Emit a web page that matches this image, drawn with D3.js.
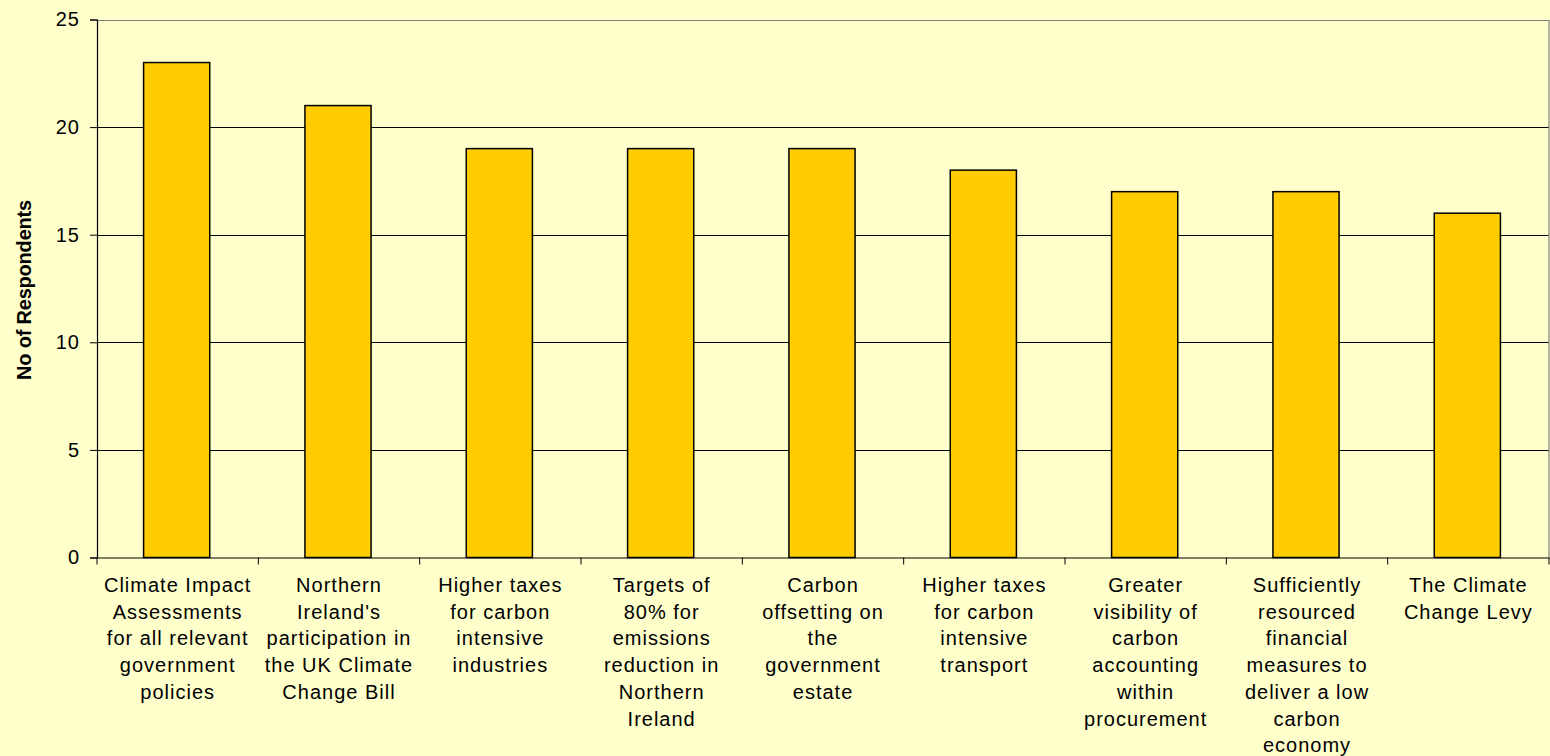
<!DOCTYPE html>
<html><head><meta charset="utf-8">
<script src="https://cdn.jsdelivr.net/npm/d3@7"></script>
<style>
html,body{margin:0;padding:0;background:#FFFFCC;}
svg{display:block;}
text{font-family:"Liberation Sans",Arial,sans-serif;fill:#000;}
</style></head>
<body>
<svg id="chart" width="1550" height="756"></svg>
<script>
const categories = [
  "Climate Impact\nAssessments\nfor all relevant\ngovernment\npolicies",
  "Northern\nIreland's\nparticipation in\nthe UK Climate\nChange Bill",
  "Higher taxes\nfor carbon\nintensive\nindustries",
  "Targets of\n80% for\nemissions\nreduction in\nNorthern\nIreland",
  "Carbon\noffsetting on\nthe\ngovernment\nestate",
  "Higher taxes\nfor carbon\nintensive\ntransport",
  "Greater\nvisibility of\ncarbon\naccounting\nwithin\nprocurement",
  "Sufficiently\nresourced\nfinancial\nmeasures to\ndeliver a low\ncarbon\neconomy",
  "The Climate\nChange Levy"
];
const respondents = [23, 21, 19, 19, 19, 18, 17, 17, 16];
const yTicks = [0, 5, 10, 15, 20, 25];
const yTitle = "No of Respondents";

const svg = d3.select("#chart");
const L = 97, R = 1549, T = 19.5, B = 557.5;

const x = d3.scaleBand().domain(d3.range(categories.length)).range([L, R]).paddingInner(0).paddingOuter(0);
const y = d3.scaleLinear().domain([0, 25]).range([B, T]);

svg.append("rect").attr("width",1550).attr("height",756).attr("fill","#FFFFCC");

// gridlines
svg.append("g").selectAll("line").data(yTicks.filter(d=>d>0 && d<25)).join("line")
  .attr("x1", L).attr("x2", R).attr("y1", d=>Math.round(y(d))+0.5).attr("y2", d=>Math.round(y(d))+0.5)
  .attr("stroke","#000").attr("stroke-width",1);

// plot border top & right (gray)
svg.append("path")
  .attr("d", `M${L},${Math.round(y(25))+0.5}H${R}V${B}`)
  .attr("fill","none").attr("stroke","#808080").attr("stroke-width",1.2);

// bars
const barFrac = 0.41;
svg.append("g").selectAll("rect").data(respondents).join("rect")
  .attr("x", (d,i)=> x(i) + x.bandwidth()*(1-barFrac)/2 - 1)
  .attr("width", x.bandwidth()*barFrac)
  .attr("y", d=>y(d))
  .attr("height", d=>y(0)-y(d))
  .attr("fill","#FFCC00").attr("stroke","#000").attr("stroke-width",1.5);

// y axis
const yAxis = d3.axisLeft(y).tickValues(yTicks).tickSize(7).tickPadding(10);
const gy = svg.append("g").attr("transform",`translate(${L},0)`).call(yAxis);
gy.select(".domain").attr("stroke","#000").attr("stroke-width",1.2);
gy.selectAll(".tick line").attr("stroke","#000");
gy.selectAll(".tick text").attr("font-size","20px").attr("letter-spacing","1px")
  .style("font-family","'Liberation Sans',Arial,sans-serif").attr("fill","#000");

// x axis
const xAxis = d3.axisBottom(x).tickValues([]).tickSizeOuter(0);
const gx = svg.append("g").attr("transform",`translate(0,${B})`).call(xAxis);
gx.select(".domain").attr("stroke","#000").attr("stroke-width",1.2);
// category boundary ticks
gx.append("g").selectAll("line").data(d3.range(categories.length+1)).join("line")
  .attr("x1", i => i<categories.length ? x(i) : R).attr("x2", i => i<categories.length ? x(i) : R)
  .attr("y1",0).attr("y2",7).attr("stroke","#000");

// category labels
const lab = svg.append("g");
categories.forEach((c,i)=>{
  const t = lab.append("text")
    .attr("text-anchor","middle")
    .attr("font-size","20px")
    .attr("letter-spacing","1px")
    .attr("transform",`translate(${x(i)+x.bandwidth()/2},592)`);
  c.split("\n").forEach((ln,j)=>{
    t.append("tspan").attr("x",0).attr("y", j*26.7).text(ln);
  });
});

// y title
svg.append("text")
  .attr("transform","translate(31,290) rotate(-90)")
  .attr("text-anchor","middle")
  .attr("font-size","20px").attr("font-weight","bold").attr("letter-spacing","-0.2px")
  .text(yTitle);
</script>
</body></html>
